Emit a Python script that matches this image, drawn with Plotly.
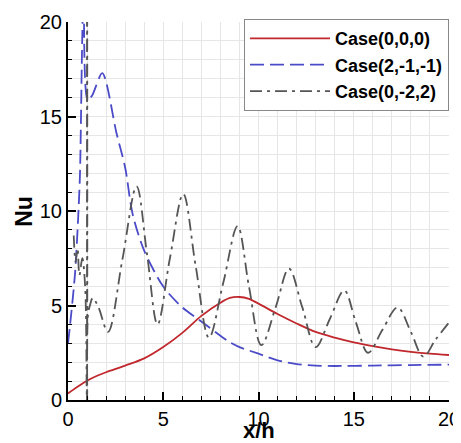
import plotly.graph_objects as go

# Case(0,0,0)
red_x = [0, 0.5, 1, 1.5, 2, 3, 4, 5, 6, 7, 8, 8.5, 9, 9.5, 10, 11, 12, 13, 14, 15, 16, 17, 18, 19, 20]
red_y = [0.35, 0.7, 1.02, 1.27, 1.47, 1.82, 2.2, 2.8, 3.55, 4.45, 5.15, 5.4, 5.45, 5.35, 5.1, 4.55, 4.05, 3.6, 3.3, 3.05, 2.85, 2.68, 2.55, 2.45, 2.38]

# Case(2,-1,-1)
blue_x = [0, 0.1, 0.37, 0.55, 0.63, 0.73, 0.8, 0.98, 1.0, 1.03, 1.26, 1.8, 2.55, 3.0, 3.4, 4, 5, 6, 7, 8, 8.5, 9, 10, 11, 12, 13, 14, 16, 18, 20]
blue_y = [3.0, 3.9, 6.7, 10.0, 12.0, 18.2, 22, 40, 40, 15.9, 16.1, 17.3, 14.1, 12.3, 9.8, 7.9, 6.0, 4.9, 4.15, 3.4, 3.05, 2.8, 2.45, 2.1, 1.9, 1.82, 1.8, 1.82, 1.85, 1.87]

# Case(0,-2,2)
gray_x = [0.3, 0.4, 0.5, 0.6, 0.75, 0.9, 0.99, 1.0, 1.01, 1.05, 1.15, 1.3, 1.6, 2.1, 2.85, 3.6, 4.15, 4.7, 5.35, 6.05, 6.7, 7.4, 8.15, 8.9, 9.5, 10.15, 10.9, 11.6, 12.3, 13.0, 13.75, 14.5, 15.1, 15.75, 16.5, 17.3, 18.0, 18.65, 19.3, 20]
gray_y = [8.7, 7.3, 8.0, 6.6, 7.5, 6.0, 0.0, 30, 0.0, 4.5, 5.0, 5.4, 4.9, 3.6, 7.4, 11.3, 7.7, 4.0, 7.5, 10.9, 7.1, 3.3, 6.2, 9.2, 6.0, 2.9, 4.9, 6.95, 4.9, 2.8, 4.3, 5.8, 4.15, 2.5, 3.7, 4.9, 3.6, 2.3, 3.2, 4.1]

names = ["Case(0,0,0)", "Case(2,-1,-1)", "Case(0,-2,2)"]

FONT = "Liberation Sans, Arial, sans-serif"

fig = go.Figure()
fig.add_trace(go.Scatter(x=red_x, y=red_y, mode="lines", name=names[0],
                         line=dict(color="#c0282d", width=1.8, shape="spline", smoothing=0.8)))
fig.add_trace(go.Scatter(x=blue_x, y=blue_y, mode="lines", name=names[1],
                         line=dict(color="#4b4bc8", width=1.8, dash="14px,6px",
                                   shape="spline", smoothing=0.8)))
fig.add_trace(go.Scatter(x=gray_x, y=gray_y, mode="lines", name=names[2],
                         line=dict(color="#555555", width=1.8, dash="12px,5px,3px,5px",
                                   shape="spline", smoothing=1.0)))

grid = "#e6e6e6"
axis_common = dict(
    showline=True, linecolor="black", linewidth=2, automargin=False,
    ticks="inside", ticklen=8, tickwidth=2, tickcolor="black",
    showgrid=True, gridcolor=grid, gridwidth=1, zeroline=False,
    tickfont=dict(family=FONT, size=20, color="black"),
    minor=dict(dtick=1, ticks="inside", ticklen=4, tickwidth=1, tickcolor="black",
               showgrid=True, gridcolor=grid, gridwidth=1),
    dtick=5, tick0=0,
)
fig.update_xaxes(range=[0, 20], **axis_common)
fig.update_yaxes(range=[0, 20], **axis_common)

# the page body adds an 8px offset, so the figure is sized to fit the window
fig.update_layout(
    width=453, height=435,
    margin=dict(l=60, r=12, t=13, b=43),
    paper_bgcolor="white", plot_bgcolor="white",
    showlegend=True,
    legend=dict(x=1, xanchor="right", y=1.005, yanchor="top",
                bgcolor="white", bordercolor="#888888", borderwidth=1,
                font=dict(family=FONT, size=18, color="black", weight="bold"),
                itemwidth=80, tracegroupgap=0),
    annotations=[
        dict(text="Nu", xref="paper", yref="paper", x=-0.116, y=0.5,
             xanchor="center", yanchor="middle",
             showarrow=False, textangle=-90,
             font=dict(family=FONT, size=23, color="black", weight="bold")),
        dict(text="x/h", xref="paper", yref="paper", x=0.501, y=-0.08,
             xanchor="center", yanchor="middle",
             showarrow=False,
             font=dict(family=FONT, size=22, color="black", weight="bold")),
    ],
)

fig.write_html("out.html")
